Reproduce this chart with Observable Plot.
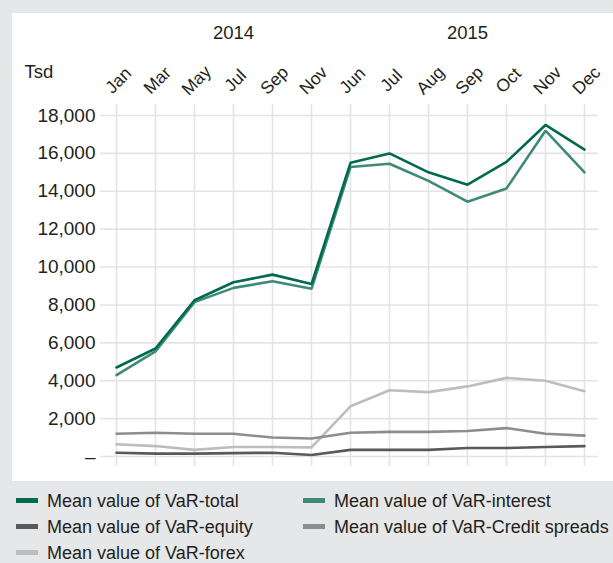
<!DOCTYPE html>
<html><head><meta charset="utf-8">
<script src="https://cdn.jsdelivr.net/npm/d3@7"></script>
<script src="https://cdn.jsdelivr.net/npm/@observablehq/plot@0.6"></script>
<style>
body{margin:0;background:#e6e7e8;width:613px;height:563px;overflow:hidden;position:relative;font-family:"Liberation Sans",Arial,sans-serif;color:#231f20}
#panel{position:absolute;left:12px;top:13px;width:601px;height:468px;background:#fff}
.lg{position:absolute;font-size:18px;line-height:20px;white-space:nowrap;color:#231f20}
.sw{position:absolute;width:22px;height:5px}
</style></head><body>
<div id="panel"></div>
<div id="legend"></div>
<script>
const months = ["Jan","Mar","May","Jul","Sep","Nov","Jun","Jul","Aug","Sep","Oct","Nov","Dec"];
const years = ["2014","2014","2014","2014","2014","2014","2015","2015","2015","2015","2015","2015","2015"];
const varTotal    = [4700,5700,8250,9200,9600,9100,15500,16000,15000,14350,15550,17500,16200];
const varInterest = [4300,5550,8150,8900,9250,8850,15280,15450,14550,13450,14150,17200,15000];
const varEquity   = [200,150,150,180,200,80,350,350,350,450,450,500,550];
const varCredit   = [1200,1250,1200,1200,1000,950,1250,1300,1300,1350,1500,1200,1100];
const varForex    = [650,550,350,500,500,480,2650,3500,3400,3700,4150,4000,3450];
const yTicks = [0,2000,4000,6000,8000,10000,12000,14000,16000,18000];
const seriesNames = ["Mean value of VaR-total","Mean value of VaR-interest","Mean value of VaR-equity","Mean value of VaR-Credit spreads","Mean value of VaR-forex"];
const seriesColors = ["#006a4e","#3f8a76","#58595b","#8c8d8f","#bcbdc0"];
const seriesValues = [varTotal,varInterest,varEquity,varCredit,varForex];

const keys = months.map((m,i)=>years[i]+"-"+m+"-"+i);
const data = [];
// draw order: forex, credit, equity, interest, total
[4,3,2,1,0].forEach(s=>{
  seriesValues[s].forEach((v,i)=>data.push({key:keys[i],value:v,series:seriesNames[s]}));
});
const yearLabels = [{key:keys[3],label:"2014"},{key:keys[9],label:"2015"}];

const chart = Plot.plot({
  width:601, height:468,
  marginLeft:88, marginRight:15, marginTop:102, marginBottom:25,
  style:{fontFamily:'"Liberation Sans",Arial,sans-serif',background:"transparent",color:"#231f20"},
  x:{type:"point",domain:keys,padding:0,insetLeft:11,insetRight:10,axis:null},
  y:{domain:[0,18000],axis:null},
  color:{domain:seriesNames,range:seriesColors},
  marks:[
    Plot.ruleY(yTicks,{stroke:"#e3e4e5",strokeWidth:1.6}),
    Plot.ruleX(keys,{stroke:"#e3e4e5",strokeWidth:1.6,insetTop:-11,insetBottom:-10}),
    Plot.text(yTicks,{y:d=>d,text:d=>d===0?"–":d3.format(",")(d),frameAnchor:"left",dx:-5,textAnchor:"end",fontSize:19,fill:"#231f20"}),
    Plot.text(keys,{x:d=>d,text:(d,i)=>months[i],frameAnchor:"top",dy:-35,dx:2,rotate:-45,textAnchor:"middle",lineAnchor:"middle",fontSize:17.5,fill:"#231f20"}),
    Plot.text(yearLabels,{x:"key",text:"label",frameAnchor:"top",dy:-82,textAnchor:"middle",lineAnchor:"middle",fontSize:18.5,fill:"#231f20"}),
    Plot.text(["Tsd"],{text:d=>d,frameAnchor:"top-left",dx:-76,dy:-43,textAnchor:"start",lineAnchor:"middle",fontSize:18.5,fill:"#231f20"}),
    Plot.line(data,{x:"key",y:"value",z:"series",stroke:"series",strokeWidth:2.6,strokeLinejoin:"miter",curve:"linear"})
  ]
});
document.getElementById("panel").appendChild(chart);

const lg = document.getElementById("legend");
const pos = [[16,501],[303,501],[16,527],[303,527],[16,553]];
seriesNames.forEach((n,i)=>{
  const [x,y]=pos[i];
  const sw=document.createElement("div");sw.className="sw";sw.style.left=x+"px";sw.style.top=(y-3)+"px";sw.style.background=seriesColors[i];lg.appendChild(sw);
  const t=document.createElement("div");t.className="lg";t.style.left=(x+31)+"px";t.style.top=(y-10)+"px";t.textContent=n;lg.appendChild(t);
});
</script>
</body></html>
